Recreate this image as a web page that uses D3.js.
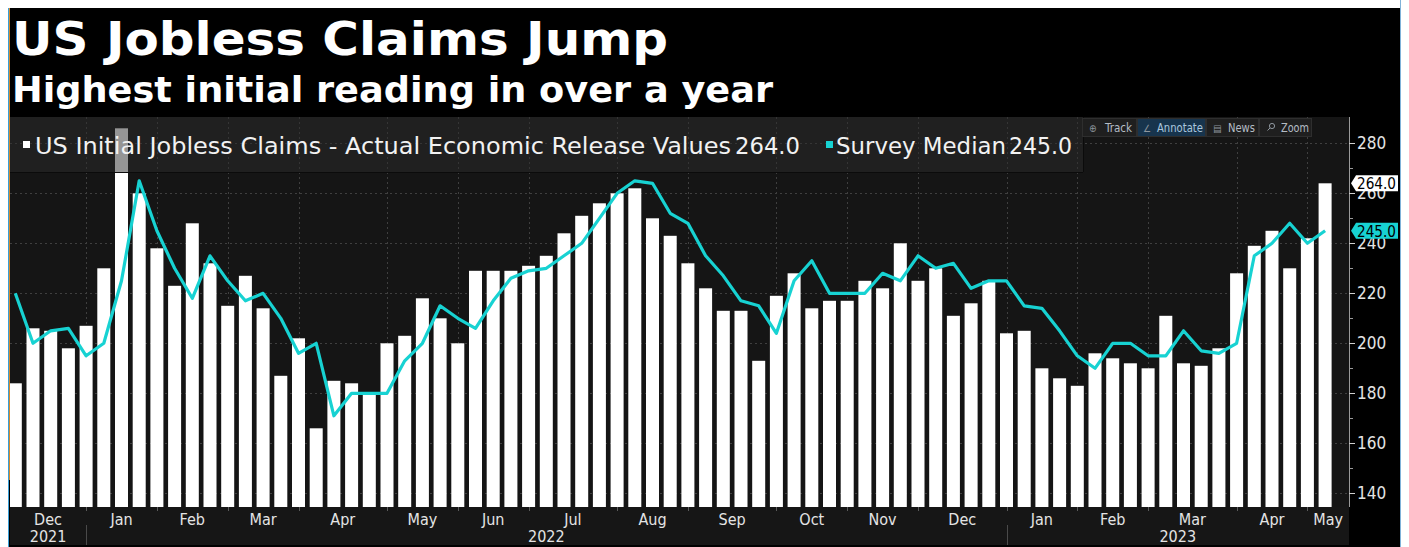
<!DOCTYPE html>
<html>
<head>
<meta charset="utf-8">
<script src="https://cdn.jsdelivr.net/npm/d3@7"></script>
<style>
  html, body { margin: 0; padding: 0; background: #fff; }
  svg { display: block; }
</style>
</head>
<body>
<svg id="chart" width="1409" height="547"></svg>
<script>
// weekly initial claims, Dec 2021 - May 2023 (thousands)
const actualClaims = [
  184, 206, 205, 198, 207, 230, 286, 260, 238, 223, 248, 232, 215, 227, 214, 187,
  202, 166, 185, 184, 180, 200, 203, 218, 210, 200, 229, 229, 229, 231, 235, 244,
  251, 256, 260, 262, 250, 243, 232, 222, 213, 213, 193, 219, 228, 214, 217, 217,
  225, 222, 240, 225, 230, 211, 216, 225, 204, 205, 190, 186, 183, 196, 194, 192,
  190, 211, 192, 191, 198, 228, 239, 245, 230, 242, 264
];
const surveyMedian = [
  220, 200, 205, 206, 195, 200, 225, 265, 245, 230, 218, 235, 225, 217, 220, 210,
  196, 200, 171, 180, 180, 180, 193, 200, 215, 210, 206, 217, 226, 229, 230, 235,
  240, 250, 260, 265, 264, 252, 248, 235, 227, 217, 215, 204, 225, 233, 220, 220,
  220, 228, 225, 235, 230, 232, 222, 225, 225, 215, 214, 205, 195, 190, 200, 200,
  195, 195, 205, 197, 196, 200, 235, 240, 248, 240, 245
];
const monthLabels = ["Dec", "Jan", "Feb", "Mar", "Apr", "May", "Jun", "Jul", "Aug",
  "Sep", "Oct", "Nov", "Dec", "Jan", "Feb", "Mar", "Apr", "May"];
const yearLabels = ["2021", "2022", "2023"];
const yTicks = [140, 160, 180, 200, 220, 240, 260, 280];
const yMinorTicks = [150, 170, 190, 210, 230, 250, 270];
const lastActual = "264.0";
const lastSurvey = "245.0";

// week dates (Bloomberg stores them on Fridays)
const weeks = d3.timeFriday.range(new Date(2021, 11, 3), new Date(2023, 4, 6));

const svg = d3.select('#chart');
const W = 1409, H = 547;
const plot = { left: 10, right: 1349, top: 117, bottom: 507 };
const CYAN = '#17d2d2';
const condensed = '"DejaVu Sans Condensed", "DejaVu Sans", sans-serif';

// page backdrop
svg.append('rect').attr('width', W).attr('height', H).attr('fill', '#fff');
svg.append('rect').attr('x', 8).attr('y', 8).attr('width', 1393).attr('height', H - 8).attr('fill', '#000');
svg.append('line').attr('x1', 8.5).attr('x2', 8.5).attr('y1', 8).attr('y2', H).attr('stroke', '#3a9fd6');
svg.append('line').attr('x1', 9.5).attr('x2', 9.5).attr('y1', 8).attr('y2', 480).attr('stroke', '#d98a2b');
svg.append('line').attr('x1', 1400.5).attr('x2', 1400.5).attr('y1', 0).attr('y2', H).attr('stroke', '#7fb2d9');

// titles
svg.append('text')
  .attr('x', 12).attr('y', 55)
  .attr('fill', '#fff')
  .attr('font-family', '"DejaVu Sans", sans-serif')
  .attr('font-weight', 'bold')
  .attr('font-size', 46)
  .attr('textLength', 656).attr('lengthAdjust', 'spacingAndGlyphs')
  .text('US Jobless Claims Jump');

svg.append('text')
  .attr('x', 12).attr('y', 102)
  .attr('fill', '#fff')
  .attr('font-family', '"DejaVu Sans", sans-serif')
  .attr('font-weight', 'bold')
  .attr('font-size', 35)
  .attr('textLength', 761).attr('lengthAdjust', 'spacingAndGlyphs')
  .text('Highest initial reading in over a year');

// scales
const x = d3.scaleBand()
  .domain(d3.range(weeks.length))
  .range([6.45, 1333.95])
  .paddingInner(0.265)
  .paddingOuter(0.1325);
const cx = i => x(i) + x.bandwidth() / 2;

const y = d3.scaleLinear()
  .domain([134.52, 290.52])
  .range([plot.bottom, plot.top]);

// plot background
svg.append('rect')
  .attr('x', plot.left).attr('y', plot.top)
  .attr('width', plot.right - plot.left).attr('height', plot.bottom - plot.top)
  .attr('fill', '#151515');

svg.append('clipPath').attr('id', 'plot-clip')
  .append('rect')
  .attr('x', plot.left).attr('y', plot.top)
  .attr('width', plot.right - plot.left).attr('height', plot.bottom - plot.top);

// month boundaries: last weekly point of each month
const boundaries = [];
for (let i = 1; i < weeks.length; i++) {
  if (weeks[i].getMonth() !== weeks[i - 1].getMonth()) {
    boundaries.push({ i: i - 1, newYear: weeks[i].getMonth() === 0 });
  }
}
const bx = boundaries.map(b => cx(b.i));

// grid
const grid = svg.append('g').attr('stroke', '#3f3f3f').attr('stroke-dasharray', '2,3');
grid.selectAll('line.h')
  .data(yTicks)
  .enter().append('line')
  .attr('x1', plot.left).attr('x2', plot.right)
  .attr('y1', d => Math.round(y(d)) + 0.5).attr('y2', d => Math.round(y(d)) + 0.5);
grid.selectAll('line.v')
  .data(bx)
  .enter().append('line')
  .attr('x1', d => Math.round(d) + 0.5).attr('x2', d => Math.round(d) + 0.5)
  .attr('y1', plot.top).attr('y2', plot.bottom);

// bars
svg.append('g')
  .attr('clip-path', 'url(#plot-clip)')
  .selectAll('rect')
  .data(actualClaims)
  .enter().append('rect')
  .attr('x', (d, i) => x(i))
  .attr('y', d => y(d))
  .attr('width', x.bandwidth())
  .attr('height', d => plot.bottom - y(d))
  .attr('fill', '#fff');

// survey median line
const line = d3.line()
  .x((d, i) => cx(i))
  .y(d => y(d));

svg.append('path')
  .datum(surveyMedian)
  .attr('clip-path', 'url(#plot-clip)')
  .attr('fill', 'none')
  .attr('stroke', CYAN)
  .attr('stroke-width', 3.2)
  .attr('stroke-linejoin', 'round')
  .attr('d', line);

// legend overlay
svg.append('rect')
  .attr('x', plot.left).attr('y', plot.top)
  .attr('width', 1073).attr('height', 55)
  .attr('fill', '#2b2b2b').attr('fill-opacity', 0.5);
svg.append('line')
  .attr('x1', plot.left).attr('x2', 1083).attr('y1', 172.5).attr('y2', 172.5)
  .attr('stroke', '#0b0b0b');
svg.append('line')
  .attr('x1', 1083.5).attr('x2', 1083.5).attr('y1', plot.top).attr('y2', 172)
  .attr('stroke', '#0b0b0b');

const legend = svg.append('g')
  .attr('font-family', condensed)
  .attr('font-size', 23)
  .attr('fill', '#f2f2f2');
legend.append('rect').attr('x', 23).attr('y', 141).attr('width', 7).attr('height', 7).attr('fill', '#fff');
legend.append('text').attr('x', 35).attr('y', 154)
  .attr('textLength', 696).attr('lengthAdjust', 'spacingAndGlyphs')
  .text('US Initial Jobless Claims - Actual Economic Release Values');
legend.append('text').attr('x', 735).attr('y', 154)
  .attr('textLength', 65).attr('lengthAdjust', 'spacingAndGlyphs')
  .text(lastActual);
legend.append('rect').attr('x', 826).attr('y', 141).attr('width', 7).attr('height', 7).attr('fill', CYAN);
legend.append('text').attr('x', 836).attr('y', 154)
  .attr('textLength', 170).attr('lengthAdjust', 'spacingAndGlyphs')
  .text('Survey Median');
legend.append('text').attr('x', 1009).attr('y', 154)
  .attr('textLength', 63).attr('lengthAdjust', 'spacingAndGlyphs')
  .text(lastSurvey);

// toolbar
const tools = [
  { label: 'Track', icon: '⊕', x0: 1082, x1: 1137, ix: 1089, tx: 1105, tw: 27, active: false },
  { label: 'Annotate', icon: '∠', x0: 1137, x1: 1206, ix: 1143, tx: 1157, tw: 46, active: true },
  { label: 'News', icon: '▤', x0: 1206, x1: 1259, ix: 1213, tx: 1228, tw: 27, active: false },
  { label: 'Zoom', icon: '', x0: 1259, x1: 1312, ix: 1266, tx: 1281, tw: 28, active: false }
];
const tb = svg.append('g').attr('font-family', condensed).attr('font-size', 12);
tools.forEach(t => {
  tb.append('rect')
    .attr('x', t.x0 + 0.5).attr('y', 118.5)
    .attr('width', t.x1 - t.x0 - 1).attr('height', 18)
    .attr('fill', t.active ? '#17344d' : '#1f1f1f')
    .attr('stroke', '#2e2e2e');
  if (t.icon) {
    tb.append('text')
      .attr('x', t.ix).attr('y', 131.5)
      .attr('fill', '#8e969e')
      .attr('font-size', 10)
      .text(t.icon);
  }
  tb.append('text')
    .attr('x', t.tx).attr('y', 132)
    .attr('fill', t.active ? '#a9c6de' : '#b4bcc4')
    .attr('textLength', t.tw).attr('lengthAdjust', 'spacingAndGlyphs')
    .text(t.label);
});
// zoom magnifier icon
tb.append('circle').attr('cx', 1272).attr('cy', 126).attr('r', 2.6)
  .attr('fill', 'none').attr('stroke', '#8e969e');
tb.append('line').attr('x1', 1270).attr('y1', 128).attr('x2', 1267.5).attr('y2', 130.5)
  .attr('stroke', '#8e969e');

// right axis
const axisG = svg.append('g');
axisG.append('line')
  .attr('x1', plot.right + 0.5).attr('x2', plot.right + 0.5)
  .attr('y1', plot.top).attr('y2', plot.bottom)
  .attr('stroke', '#9a9a9a');
axisG.selectAll('line.minor')
  .data(yMinorTicks)
  .enter().append('line')
  .attr('x1', plot.right).attr('x2', plot.right + 4)
  .attr('y1', d => Math.round(y(d)) + 0.5).attr('y2', d => Math.round(y(d)) + 0.5)
  .attr('stroke', '#9a9a9a');
axisG.selectAll('line.major')
  .data(yTicks)
  .enter().append('line')
  .attr('x1', plot.right).attr('x2', plot.right + 6)
  .attr('y1', d => Math.round(y(d)) + 0.5).attr('y2', d => Math.round(y(d)) + 0.5)
  .attr('stroke', '#cfcfcf');
axisG.selectAll('text')
  .data(yTicks)
  .enter().append('text')
  .attr('x', 1357).attr('y', d => y(d))
  .attr('dy', '0.36em')
  .attr('fill', '#e4e4e4')
  .attr('font-family', condensed)
  .attr('font-size', 17)
  .text(d => d);

// last value tags
function tag(value, label, fill) {
  const yc = y(value);
  svg.append('path')
    .attr('d', `M1351,${yc} L1356,${yc - 8} L1398,${yc - 8} L1398,${yc + 8} L1356,${yc + 8} Z`)
    .attr('fill', fill);
  svg.append('text')
    .attr('x', 1357).attr('y', yc)
    .attr('dy', '0.36em')
    .attr('fill', '#000')
    .attr('font-family', condensed)
    .attr('font-size', 16)
    .attr('textLength', 39).attr('lengthAdjust', 'spacingAndGlyphs')
    .text(label);
}
tag(+lastActual, lastActual, '#fff');
tag(+lastSurvey, lastSurvey, CYAN);

// bottom time axis
svg.append('rect')
  .attr('x', plot.left).attr('y', plot.bottom)
  .attr('width', plot.right - plot.left).attr('height', 38)
  .attr('fill', '#161616');

const edges = [plot.left, ...bx, plot.right];
const xAxis = svg.append('g')
  .attr('font-family', condensed)
  .attr('font-size', 16)
  .attr('fill', '#e4e4e4')
  .attr('text-anchor', 'middle');

xAxis.selectAll('text.month')
  .data(monthLabels)
  .enter().append('text')
  .attr('x', (d, i) => (edges[i] + edges[i + 1]) / 2)
  .attr('y', 525)
  .text(d => d);

xAxis.selectAll('line.mtick')
  .data(bx)
  .enter().append('line')
  .attr('x1', d => Math.round(d) + 0.5).attr('x2', d => Math.round(d) + 0.5)
  .attr('y1', plot.bottom).attr('y2', plot.bottom + 4)
  .attr('stroke', '#5a5a5a');

const yearEdges = [plot.left, ...boundaries.filter(b => b.newYear).map(b => cx(b.i)), plot.right];
xAxis.selectAll('text.year')
  .data(yearLabels)
  .enter().append('text')
  .attr('x', (d, i) => (yearEdges[i] + yearEdges[i + 1]) / 2)
  .attr('y', 542)
  .text(d => d);

xAxis.selectAll('line.ysep')
  .data(yearEdges.slice(1, -1))
  .enter().append('line')
  .attr('x1', d => Math.round(d) + 0.5).attr('x2', d => Math.round(d) + 0.5)
  .attr('y1', 525).attr('y2', 545)
  .attr('stroke', '#4a4a4a');
</script>
</body>
</html>
